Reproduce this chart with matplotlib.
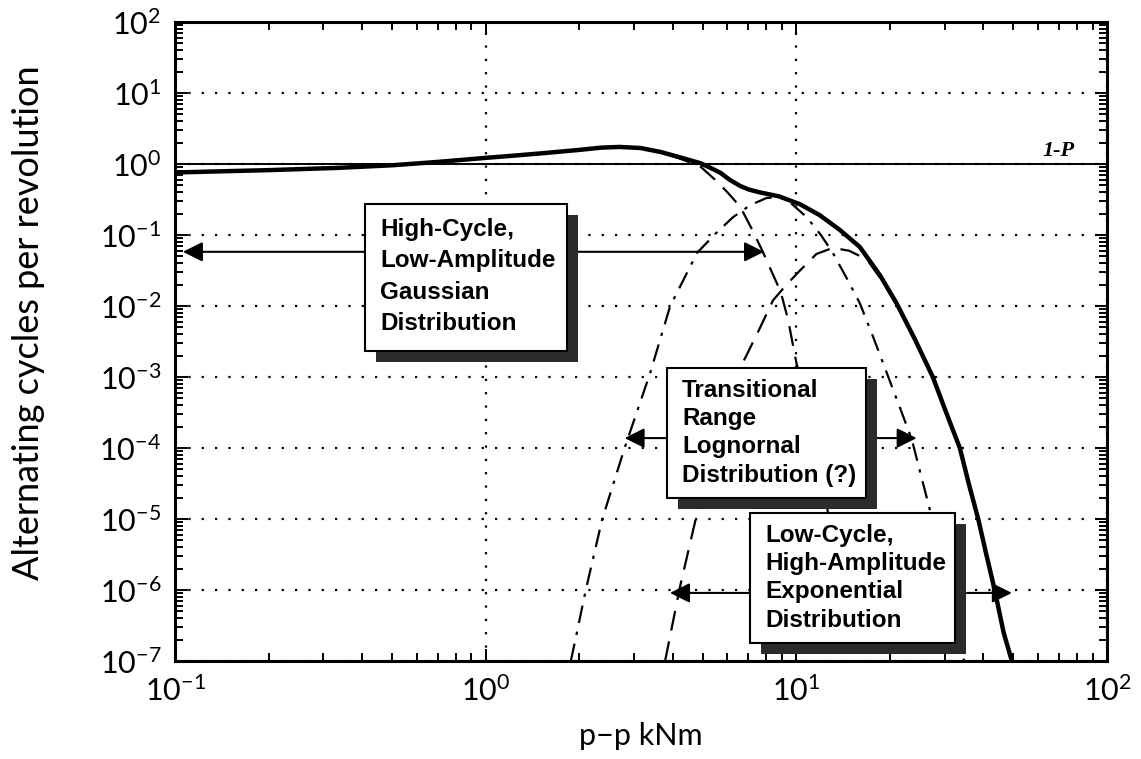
import matplotlib
matplotlib.use("Agg")
import matplotlib.pyplot as plt
from matplotlib.patches import Rectangle
from matplotlib.ticker import LogLocator, NullFormatter

plt.rcParams['font.family'] = ['Lato', 'DejaVu Sans']
plt.rcParams['mathtext.fontset'] = 'custom'
plt.rcParams['mathtext.rm'] = 'Lato'
plt.rcParams['mathtext.default'] = 'regular'

# peak-to-peak load (kNm) and cycles per revolution for each curve
total_pp = [0.1, 0.2, 0.33, 0.5, 0.7, 1.0, 1.2, 1.5, 2.0, 2.35, 2.7, 3.15, 3.65, 4.2,
            4.9, 5.3, 5.7, 6.1, 6.6, 7.0, 7.6, 8.8, 10.3, 11.9, 13.8, 16.0, 18.6,
            21.0, 24.0, 27.5, 30.5, 33.6, 36.0, 38.5, 41.0, 43.5, 46.5, 49.4]
total_cyc = [0.76, 0.82, 0.88, 0.96, 1.07, 1.22, 1.3, 1.41, 1.58, 1.7, 1.74, 1.68,
             1.48, 1.25, 1.03, 0.88, 0.75, 0.6, 0.49, 0.44, 0.40, 0.35, 0.27, 0.19,
             0.118, 0.068, 0.027, 0.011, 3.5e-3, 1.0e-3, 3.0e-4, 1.0e-4, 3.0e-5,
             1.0e-5, 3.0e-6, 1.0e-6, 2.5e-7, 1.0e-7]

gauss_pp = [0.1, 0.2, 0.33, 0.5, 0.7, 1.0, 1.2, 1.5, 2.0, 2.35, 2.7, 3.15, 3.65, 4.2,
            4.9, 5.5, 6.0, 6.6, 7.2, 7.8, 8.4, 8.9, 9.4, 10.0, 10.6, 11.3, 12.0,
            12.7, 13.4, 14.2, 15.0]
gauss_cyc = [0.76, 0.82, 0.88, 0.96, 1.07, 1.22, 1.3, 1.41, 1.58, 1.7, 1.74, 1.67,
             1.46, 1.2, 0.93, 0.59, 0.40, 0.25, 0.12, 0.058, 0.028, 0.016, 6.5e-3,
             1.6e-3, 5.9e-4, 1.7e-4, 4.6e-5, 1.1e-5, 2.6e-6, 4.4e-7, 8.0e-8]

lognorm_pp = [1.88, 2.1, 2.37, 2.8, 3.38, 3.92, 4.79, 5.5, 6.25, 7.1, 8.0, 8.8, 9.6,
              10.8, 12.0, 13.1, 14.5, 16.0, 17.7, 20.5, 23.5, 26.9, 30.0, 33.0, 35.0]
lognorm_cyc = [1e-7, 1e-6, 9.8e-6, 1e-4, 1.12e-3, 9.8e-3, 0.056, 0.105, 0.178, 0.263,
               0.331, 0.347, 0.282, 0.178, 0.1, 0.056, 0.025, 0.011, 3.6e-3, 6.6e-4,
               1.35e-4, 1.35e-5, 2.0e-6, 3.2e-7, 8.0e-8]

expo_pp = [3.78, 4.22, 4.82, 5.6, 6.73, 7.6, 8.41, 9.3, 10.3, 11.6, 13.1, 14.8, 16.9,
           18.6, 21.0, 24.0, 27.5, 30.5, 33.6, 36.0, 38.5, 41.0, 43.5, 46.5, 49.4]
expo_cyc = [1e-7, 1.1e-6, 1.35e-5, 1.26e-4, 1.6e-3, 4.7e-3, 0.012, 0.02, 0.032, 0.054,
            0.066, 0.06, 0.045, 0.025, 0.0105, 3.4e-3, 1.0e-3, 3.0e-4, 1.0e-4, 3.0e-5,
            1.0e-5, 3.0e-6, 1.0e-6, 2.5e-7, 1.0e-7]

one_per_rev = 1.0

fig = plt.figure(figsize=(11.41, 7.59), dpi=100)
ax = fig.add_axes([0.1534, 0.1291, 0.8168, 0.8419])
ax.set_xscale('log')
ax.set_yscale('log')
ax.set_xlim(0.1, 100)
ax.set_ylim(1e-7, 1e2)

ax.xaxis.set_major_locator(LogLocator(base=10, numticks=20))
ax.yaxis.set_major_locator(LogLocator(base=10, numticks=20))
ax.xaxis.set_minor_locator(LogLocator(base=10, subs=range(2, 10), numticks=100))
ax.yaxis.set_minor_locator(LogLocator(base=10, subs=range(2, 10), numticks=100))
ax.xaxis.set_minor_formatter(NullFormatter())
ax.yaxis.set_minor_formatter(NullFormatter())

ax.grid(True, which='major', color='black', linestyle=(0, (1, 5)), linewidth=1.6)
ax.tick_params(which='both', direction='in', top=True, right=True, width=1.4,
               labelsize=22, colors='black')
ax.tick_params(which='major', length=9, pad=10)
ax.tick_params(which='minor', length=6)
for sp in ax.spines.values():
    sp.set_linewidth(2.2)

ax.axhline(one_per_rev, color='black', lw=1.4, zorder=2)
ax.text(62, 1.1, '1-P', family='Liberation Serif', style='italic', weight='bold',
        fontsize=16, ha='left', va='bottom')

ax.plot(gauss_pp, gauss_cyc, color='black', lw=1.6, dashes=(9, 5), zorder=3)
ax.plot(lognorm_pp, lognorm_cyc, color='black', lw=1.6, dashes=(8, 4, 1.5, 4), zorder=3)
ax.plot(expo_pp, expo_cyc, color='black', lw=1.6, dashes=(9, 5), zorder=3)
ax.plot(total_pp, total_cyc, color='black', lw=3.2, zorder=4,
        solid_joinstyle='round', solid_capstyle='butt')

# text boxes with drop shadows, in axes fraction: x0, y0, w, h, text top, line spacing
boxes = [
    (0.204, 0.485, 0.217, 0.230, 0.694, 1.48,
     'High-Cycle,\nLow-Amplitude\nGaussian\nDistribution'),
    (0.528, 0.255, 0.213, 0.2035, 0.442, 1.3,
     'Transitional\nRange\nLognornal\nDistribution (?)'),
    (0.617, 0.028, 0.220, 0.2035, 0.215, 1.3,
     'Low-Cycle,\nHigh-Amplitude\nExponential\nDistribution'),
]
dx, dy = 11 / 932, 11 / 639
for x0, y0, w, h, ytxt, lsp, label in boxes:
    ax.add_patch(Rectangle((x0 + dx, y0 - dy), w, h, transform=ax.transAxes,
                           facecolor='#2b2b2b', edgecolor='none', zorder=6))
    ax.add_patch(Rectangle((x0, y0), w, h, transform=ax.transAxes,
                           facecolor='white', edgecolor='black', lw=1.5, zorder=7))
    ax.text(x0 + 0.016, ytxt, label, transform=ax.transAxes,
            family='Liberation Sans', weight='bold', fontsize=17.5, ha='left', va='top',
            linespacing=lsp, zorder=8)

arrow = dict(arrowstyle='-|>', color='black', lw=1.5, mutation_scale=30,
             shrinkA=0, shrinkB=0)
# (tail x, tip x, y) in data units
arrows = [
    (0.409, 0.106, 0.058), (1.98, 7.87, 0.058),
    (3.83, 2.8, 1.38e-4), (18.2, 24.4, 1.38e-4),
    (7.09, 3.92, 9.1e-7), (35.4, 49.4, 9.1e-7),
]
for x_from, x_to, yv in arrows:
    ax.annotate('', xy=(x_to, yv), xytext=(x_from, yv), arrowprops=arrow, zorder=5)

ax.set_xlabel('p\u2212p kNm', fontsize=22, labelpad=12)
ax.set_ylabel('Alternating cycles per revolution', fontsize=26, labelpad=36)
ax.yaxis.set_label_coords(-0.14, 0.53)

fig.savefig('out.png', dpi=100)
